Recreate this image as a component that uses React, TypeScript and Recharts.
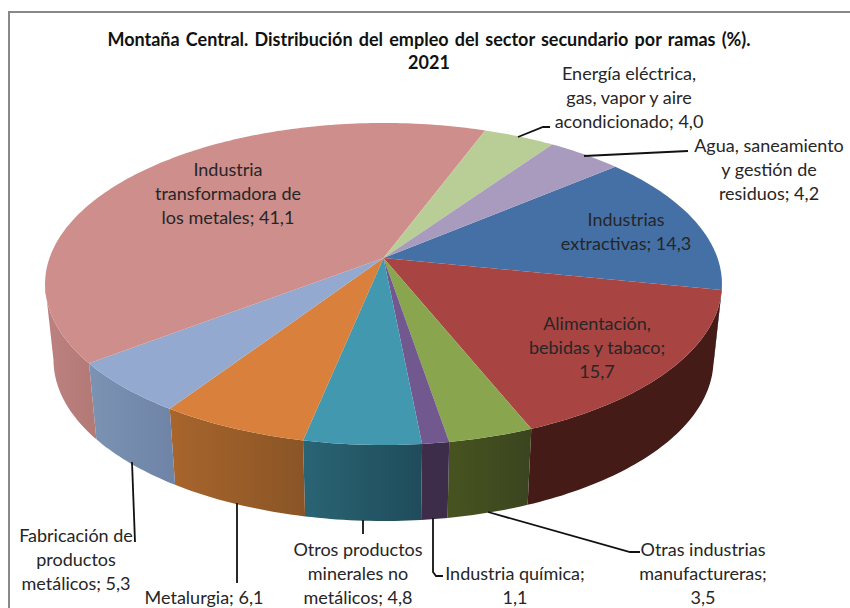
import React from 'react';
import { PieChart, Pie } from 'recharts';

const NAMES = [
  'Industrias extractivas',
  'Alimentación, bebidas y tabaco',
  'Otras industrias manufactureras',
  'Industria química',
  'Otros productos minerales no metálicos',
  'Metalurgia',
  'Fabricación de productos metálicos',
  'Industria transformadora de los metales',
  'Energía eléctrica, gas, vapor y aire acondicionado',
  'Agua, saneamiento y gestión de residuos',
];
const VALUES = [14.3, 15.7, 3.5, 1.1, 4.8, 6.1, 5.3, 41.1, 4.0, 4.2];
const LABEL_LINES = [
  ['Industrias', 'extractivas; 14,3'],
  ['Alimentación,', 'bebidas y tabaco;', '15,7'],
  ['Otras industrias', 'manufactureras;', '3,5'],
  ['Industria química;', '1,1'],
  ['Otros productos', 'minerales no', 'metálicos; 4,8'],
  ['Metalurgia; 6,1'],
  ['Fabricación de', 'productos', 'metálicos; 5,3'],
  ['Industria', 'transformadora de', 'los metales; 41,1'],
  ['Energía eléctrica,', 'gas, vapor y aire', 'acondicionado; 4,0'],
  ['Agua, saneamiento', 'y gestión de', 'residuos; 4,2'],
];

// colours: top face, then wall gradient left -> right
const TOP_COLORS = ['#4470A6', '#A84442', '#89A54E', '#71588F', '#4198AF', '#D9803C', '#93A9CF', '#CE8E8C', '#B9CD96', '#A99BBD'];
const WALL_COLORS = [
  ['#2c4a6e', '#24405f'],
  ['#451b18', '#451b18'],
  ['#47531f', '#3a4520'],
  ['#3d2c4a', '#3d2c4a'],
  ['#2a6474', '#1f4c5a'],
  ['#a8652c', '#8a5526'],
  ['#7c93b4', '#6f84a6'],
  ['#bd8280', '#b47a78'],
  ['#8a9a70', '#8a9a70'],
  ['#7f7490', '#7f7490'],
];

// label layout: centre x, first baseline, leader line points
const LABEL_LAYOUT: { x: number; y: number; leader?: number[][] }[] = [
  { x: 626, y: 226 },
  { x: 597, y: 330 },
  { x: 703, y: 556, leader: [[488, 512], [630, 552], [640, 552]] },
  { x: 515, y: 580, leader: [[433, 518], [433, 572], [436, 576], [443, 576]] },
  { x: 358, y: 556, leader: [[363, 520], [363, 534]] },
  { x: 204, y: 604, leader: [[237, 503], [237, 583]] },
  { x: 76, y: 542, leader: [[132, 462], [135, 542]] },
  { x: 228, y: 176 },
  { x: 629, y: 80, leader: [[518, 137], [543, 127], [550, 127]] },
  { x: 769, y: 152, leader: [[584, 156], [688, 151]] },
];

const rows = NAMES.map((name, i) => ({ name, value: VALUES[i], idx: i }));

const CX = 383.5;
const CY = 258;
const RADIUS = 334;
const TILT = 156.8 / 334; // vertical squash of the disc
const PERSP = 0.1615; // nearer edge looks bigger
const DEPTH = 76;
const BOTTOM_SCALE = 0.975;
const FRONT_LIMIT = 0.15; // only the part of the rim facing the viewer gets a wall

const project = (cx: number, cy: number, r: number, deg: number) => {
  const a = (deg * Math.PI) / 180;
  const u = Math.cos(a);
  const v = -Math.sin(a);
  const w = 1 - PERSP * v;
  return [cx + (r * u) / w, cy + (r * TILT * v) / w];
};

const arcAngles = (start: number, end: number) => {
  const steps = Math.max(2, Math.ceil(Math.abs(end - start)));
  const out: number[] = [];
  for (let i = 0; i <= steps; i++) out.push(start + ((end - start) * i) / steps);
  return out;
};

const toPath = (pts: number[][]) =>
  'M' + pts.map(p => `${p[0].toFixed(2)},${p[1].toFixed(2)}`).join('L') + 'Z';

const WallShape = (props: any) => {
  const { cx, cy, outerRadius, startAngle, endAngle, idx } = props;
  const angles = arcAngles(startAngle, endAngle).filter(d => -Math.sin((d * Math.PI) / 180) >= FRONT_LIMIT);
  if (angles.length < 2) return <g />;
  const rim = angles.map(d => project(cx, cy, outerRadius, d));
  const bottom = rim.map(p => [cx + (p[0] - cx) * BOTTOM_SCALE, p[1] + DEPTH]).reverse();
  const xs = rim.map(p => p[0]);
  const id = `wall-${idx}`;
  return (
    <g>
      <defs>
        <linearGradient id={id} gradientUnits="userSpaceOnUse" x1={Math.min(...xs)} x2={Math.max(...xs)} y1={0} y2={0}>
          <stop offset="0%" stopColor={WALL_COLORS[idx][0]} />
          <stop offset="100%" stopColor={WALL_COLORS[idx][1]} />
        </linearGradient>
      </defs>
      <path d={toPath([...rim, ...bottom])} fill={`url(#${id})`} stroke="none" />
    </g>
  );
};

const TopShape = (props: any) => {
  const { cx, cy, outerRadius, startAngle, endAngle, idx } = props;
  const rim = arcAngles(startAngle, endAngle).map(d => project(cx, cy, outerRadius, d));
  return <path d={toPath([[cx, cy], ...rim])} fill={TOP_COLORS[idx]} stroke="none" />;
};

const FONT = 'Lato, "Open Sans", sans-serif';

const renderLabel = (props: any) => {
  const i = props.idx ?? props.index;
  const layout = LABEL_LAYOUT[i];
  return (
    <g key={i}>
      {layout.leader && (
        <polyline
          points={layout.leader.map(p => p.join(',')).join(' ')}
          fill="none"
          stroke="#111"
          strokeWidth={1.8}
        />
      )}
      <text textAnchor="middle" fontFamily={FONT} fontSize={18} fill="#262626">
        {LABEL_LINES[i].map((line, n) => (
          <tspan key={n} x={layout.x} y={layout.y + n * 24}>{line}</tspan>
        ))}
      </text>
    </g>
  );
};

const App = () => (
  <div style={{ position: 'absolute', left: 0, top: 0, width: 850, height: 608, background: '#fff', overflow: 'hidden' }}>
    <div style={{ position: 'absolute', left: 8, top: 11, right: 0, bottom: 0, borderLeft: '2px solid #888', borderTop: '2px solid #888' }} />
    <div style={{ position: 'absolute', left: 0, top: 0 }}>
      <PieChart width={850} height={608} margin={{ top: 0, right: 0, bottom: 0, left: 0 }}>
        <text textAnchor="middle" fontFamily={FONT} fontSize={18} fontWeight={700} fill="#111" wordSpacing={1.8}>
          <tspan x={429} y={46}>Montaña Central. Distribución del empleo del sector secundario por ramas (%).</tspan>
          <tspan x={429} y={69}>2021</tspan>
        </text>
        <Pie
          data={rows}
          dataKey="value"
          nameKey="name"
          cx={CX}
          cy={CY}
          outerRadius={RADIUS}
          startAngle={40}
          endAngle={-320}
          stroke="none"
          shape={WallShape}
          isAnimationActive={false}
        />
        <Pie
          data={rows}
          dataKey="value"
          nameKey="name"
          cx={CX}
          cy={CY}
          outerRadius={RADIUS}
          startAngle={40}
          endAngle={-320}
          stroke="none"
          shape={TopShape}
          label={renderLabel}
          labelLine={false}
          isAnimationActive={false}
        />
      </PieChart>
    </div>
  </div>
);

export default App;
